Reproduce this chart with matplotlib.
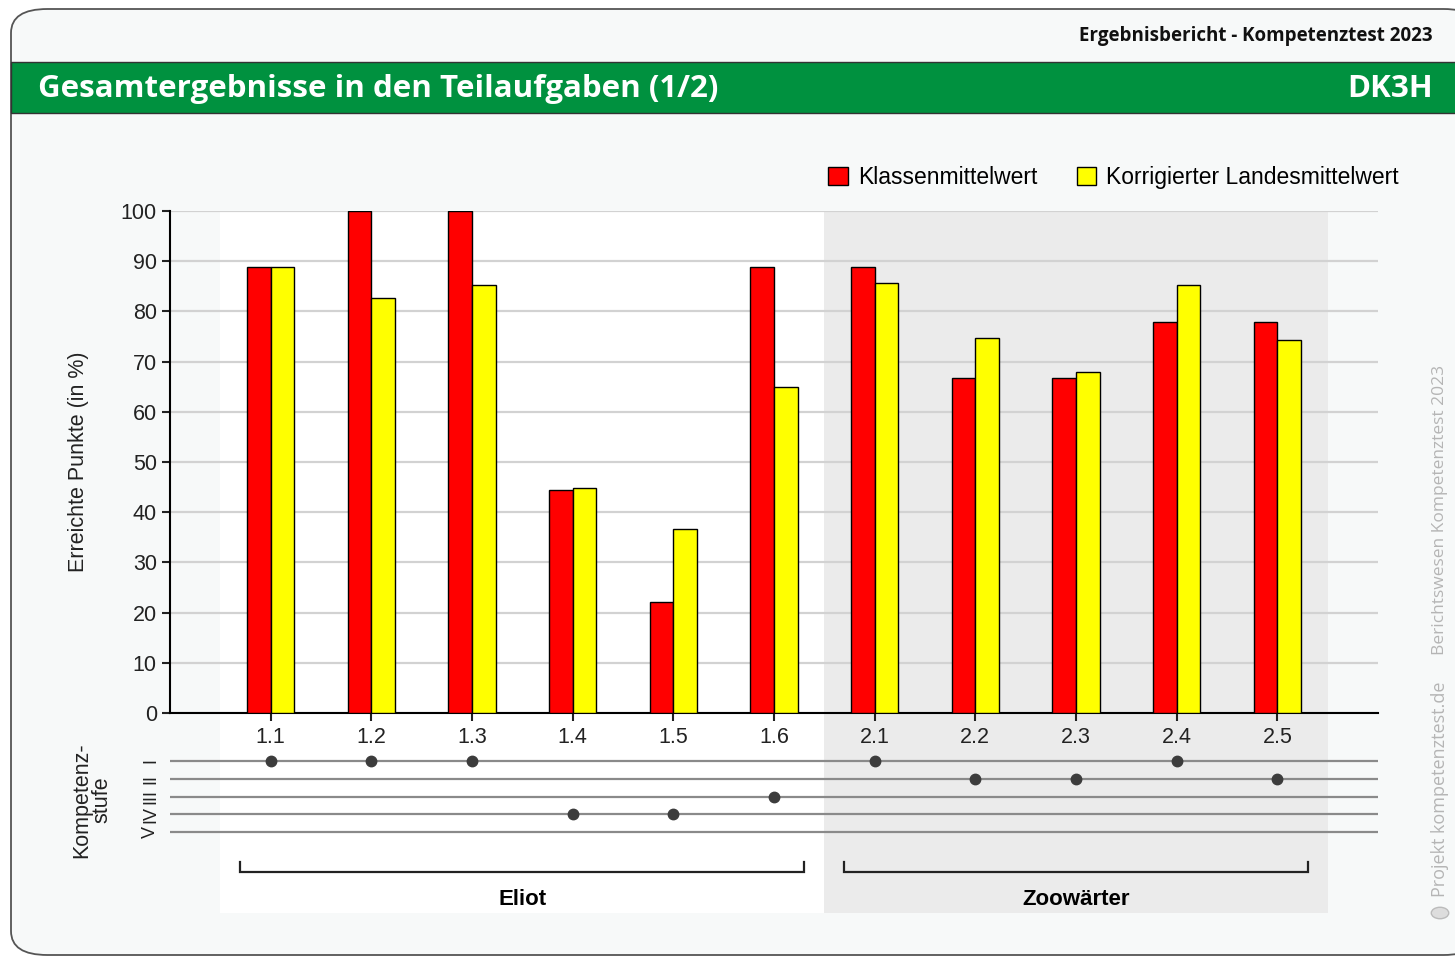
import matplotlib
matplotlib.use('Agg')
import matplotlib.pyplot as plt
from matplotlib.patches import FancyBboxPatch, Rectangle, Circle
import numpy as np

plt.rcParams['font.family'] = ['Liberation Sans', 'DejaVu Sans']

# data
tasks = ['1.1', '1.2', '1.3', '1.4', '1.5', '1.6', '2.1', '2.2', '2.3', '2.4', '2.5']
klasse = [88.9, 100, 100, 44.4, 22.2, 88.9, 88.9, 66.7, 66.7, 77.8, 77.8]
land = [88.9, 82.7, 85.3, 44.9, 36.7, 64.9, 85.7, 74.7, 67.9, 85.3, 74.3]
stufe = [1, 1, 1, 4, 4, 3, 1, 2, 2, 1, 2]
stufen_labels = ['I', 'II', 'III', 'IV', 'V']
gruppen = ['Eliot', 'Zoowärter']
gruppen_von = [0, 6]
gruppen_bis = [5, 10]

W, H = 1455, 956
fig = plt.figure(figsize=(W / 100, H / 100), dpi=100)
fig.patch.set_facecolor('white')

def fx(px):
    return px / W

def fy(py):
    return 1 - py / H

# page frame
frame = FancyBboxPatch((fx(11), fy(955)), fx(1480) - fx(11), fy(9) - fy(955),
                       boxstyle='round,pad=0,rounding_size=0.025', transform=fig.transFigure,
                       facecolor='#f7f9f9', edgecolor='#555555', lw=1.3, zorder=0)
fig.patches.append(frame)
band = Rectangle((fx(11), fy(113)), 1, fy(62) - fy(113), transform=fig.transFigure,
                 facecolor='#00913f', edgecolor='#333333', lw=1, zorder=0.5)
fig.patches.append(band)
logo = Circle((fx(1440), fy(913)), 0.006, transform=fig.transFigure,
              facecolor='#dddddd', edgecolor='#bbbbbb', lw=1, zorder=0.5)
fig.patches.append(logo)

fig.text(fx(1433), fy(36), 'Ergebnisbericht - Kompetenztest 2023', ha='right', va='center',
         fontsize=13.5, fontweight='bold', family='Open Sans', color='#111111')
fig.text(fx(38), fy(89), 'Gesamtergebnisse in den Teilaufgaben (1/2)', ha='left', va='center',
         fontsize=22.5, fontweight='bold', family='Open Sans', color='white')
fig.text(fx(1433), fy(89), 'DK3H', ha='right', va='center',
         fontsize=22.5, fontweight='bold', family='Open Sans', color='white')

# watermark
fig.text(fx(1440), fy(897), 'Projekt kompetenztest.de', rotation=90, ha='center', va='bottom',
         fontsize=13, color='#b5b5b5', family='Open Sans')
fig.text(fx(1440), fy(655), 'Berichtswesen Kompetenztest 2023', rotation=90, ha='center', va='bottom',
         fontsize=12.5, color='#b5b5b5', family='Open Sans')

x = np.arange(len(tasks))
left, right = 170, 1378

# background bands + group brackets
bg = fig.add_axes([fx(left), fy(913), fx(right) - fx(left), fy(211) - fy(913)], zorder=1)
bg.set_xlim(-1, 11)
bg.set_ylim(0, 1)
bg.axis('off')
bg.axvspan(-0.5, 5.5, color='white', lw=0)
bg.axvspan(5.5, 10.5, color='#ebebeb', lw=0)
for name, a, b in zip(gruppen, gruppen_von, gruppen_bis):
    bg.plot([a - 0.3, a - 0.3, b + 0.3, b + 0.3], [0.072, 0.059, 0.059, 0.072],
            color='#222222', lw=1.6, solid_joinstyle='miter')
    bg.text((a + b) / 2, 0.019, name, ha='center', va='center', fontsize=16, fontweight='bold')

# main chart
ax = fig.add_axes([fx(left), fy(713), fx(right) - fx(left), fy(211) - fy(713)], zorder=2)
ax.set_facecolor('none')
w = 0.235
b1 = ax.bar(x - w / 2, klasse, w, color='#ff0000', edgecolor='black', lw=1, zorder=3,
            label='Klassenmittelwert')
b2 = ax.bar(x + w / 2, land, w, color='#ffff00', edgecolor='black', lw=1, zorder=3,
            label='Korrigierter Landesmittelwert')
ax.set_xlim(-1, 11)
ax.set_ylim(0, 100)
ax.set_yticks(range(0, 101, 10))
ax.set_xticks(x)
ax.set_xticklabels(tasks)
ax.yaxis.grid(True, color='#d2d2d2', lw=1.6, zorder=0)
ax.set_axisbelow(True)
for s in ['top', 'right']:
    ax.spines[s].set_visible(False)
ax.spines['left'].set_linewidth(1.5)
ax.spines['bottom'].set_linewidth(1.5)
ax.tick_params(axis='both', labelsize=15.5, colors='#222222', width=1.5, length=6)
ax.tick_params(axis='x', pad=4)
ax.set_ylabel('Erreichte Punkte (in %)', fontsize=15.5, color='#222222')
ax.yaxis.set_label_coords(-0.067, 0.5)
leg = ax.legend(ncol=2, loc='lower right', bbox_to_anchor=(1.025, 1.025), frameon=False,
                fontsize=16.5, handlelength=0.85, handleheight=0.85, handletextpad=0.45,
                columnspacing=1.7, borderaxespad=0)

# competence levels
ax2 = fig.add_axes([fx(left), fy(841), fx(right) - fx(left), fy(752) - fy(841)], zorder=2)
ax2.set_facecolor('none')
ax2.set_xlim(-1, 11)
ax2.set_ylim(5.5, 0.5)
for i in range(1, 6):
    ax2.axhline(i, color='#8a8a8a', lw=1.6, zorder=1)
ax2.plot(x, stufe, 'o', color='#3c3c3c', ms=7.5, zorder=3)
ax2.set_xticks([])
ax2.set_yticks(range(1, 6))
ax2.set_yticklabels(stufen_labels, rotation=90, va='center', fontsize=13, color='#222222')
ax2.tick_params(axis='y', length=0, pad=8)
for s in ax2.spines.values():
    s.set_visible(False)
fig.text(fx(92), fy(800), 'Kompetenz-\nstufe', rotation=90, ha='center', va='center',
         fontsize=15.5, color='#222222', linespacing=0.95)

fig.savefig('out.png', dpi=100)
